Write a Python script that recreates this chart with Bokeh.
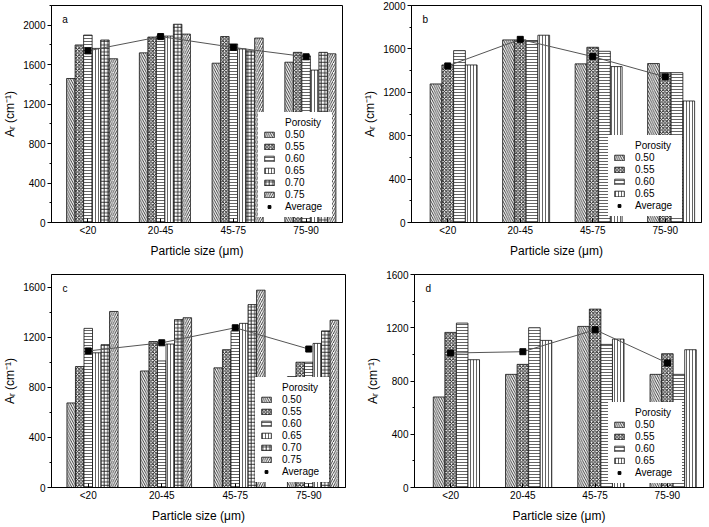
import numpy as np
from bokeh.plotting import figure
from bokeh.models import ColumnDataSource, Range1d, FixedTicker, Legend, LegendItem, Label
from bokeh.transform import dodge
from bokeh.layouts import row, column
from bokeh.embed import file_html
from bokeh.resources import INLINE

# ---------------- data ----------------
categories = ["<20", "20-45", "45-75", "75-90"]
porosity_six = ["0.50", "0.55", "0.60", "0.65", "0.70", "0.75"]
porosity_four = ["0.50", "0.55", "0.60", "0.65"]

# panel a (rows: porosity 0.50 ... 0.75, columns: particle size classes)
a_values = [
    [1460, 1720, 1615, 1625],
    [1800, 1880, 1885, 1725],
    [1900, 1890, 1810, 1690],
    [1765, 1890, 1760, 1545],
    [1850, 2010, 1740, 1725],
    [1660, 1910, 1870, 1710],
]
a_average = [1740, 1885, 1775, 1680]

# panel b (rows: porosity 0.50 ... 0.65)
b_values = [
    [1277, 1683, 1462, 1465],
    [1452, 1683, 1615, 1381],
    [1584, 1677, 1578, 1381],
    [1452, 1726, 1437, 1120],
]
b_average = [1443, 1688, 1529, 1342]

# panel c (rows: porosity 0.50 ... 0.75)
c_values = [
    [675, 930, 955, 885],
    [965, 1165, 1100, 1000],
    [1270, 1010, 1250, 1000],
    [1075, 1145, 1310, 1150],
    [1140, 1340, 1460, 1250],
    [1405, 1355, 1575, 1335],
]
c_average = [1090, 1155, 1275, 1105]

# panel d (rows: porosity 0.50 ... 0.65)
d_values = [
    [680, 850, 1210, 850],
    [1165, 925, 1340, 1005],
    [1235, 1200, 1075, 850],
    [960, 1105, 1115, 1035],
]
d_average = [1010, 1020, 1185, 935]

# ---------------- styling ----------------
FONT = "Liberation Sans"
HATCH = {"0.50": "\\", "0.55": "x", "0.60": "-", "0.65": "|", "0.70": "+", "0.75": "/"}
HSCALE = {"0.50": 4.5, "0.55": 3.5, "0.60": 3, "0.65": 3, "0.70": 3.5, "0.75": 4.5}
HWEIGHT = {"0.50": 0.9, "0.55": 1.0, "0.60": 0.7, "0.65": 0.7, "0.70": 0.9, "0.75": 0.9}


def panel(letter, values, average, labels, ymax, width, height, borders, bar_w, legend_xy):
    l, r, t, b = borders
    fw = width - l - r
    fh = height - t - b
    p = figure(width=width, height=height, x_range=Range1d(0.5, 4.5), y_range=Range1d(0, ymax),
               output_backend="svg", toolbar_location=None,
               min_border_left=l, min_border_right=r, min_border_top=t, min_border_bottom=b)
    p.xgrid.visible = False
    p.ygrid.visible = False
    p.outline_line_color = "black"
    p.outline_line_width = 1
    p.background_fill_color = "white"

    data = {"x": [1, 2, 3, 4], "avg": average}
    for j, vals in enumerate(values):
        data[f"p{j}"] = vals
    src = ColumnDataSource(data)

    n = len(values)
    bar_renderers = []
    for j, lab in enumerate(labels):
        off = (j - (n / 2 - 1)) * bar_w
        rr = p.vbar(x=dodge("x", off, range=p.x_range), top=f"p{j}", bottom=0, width=bar_w, source=src,
                    fill_color="white", line_color="#111111", line_width=0.8,
                    hatch_pattern=HATCH[lab], hatch_scale=HSCALE[lab], hatch_color="#222222",
                    hatch_weight=HWEIGHT[lab])
        bar_renderers.append(rr)

    p.line("x", "avg", source=src, line_color="#555555", line_width=1)
    sq = p.scatter("x", "avg", source=src, marker="square", size=6,
                   fill_color="black", line_color="black")
    blank = p.scatter(x=[], y=[], size=1, fill_alpha=0, line_alpha=0)

    items = [LegendItem(label="Porosity", renderers=[blank])]
    items += [LegendItem(label=lab, renderers=[rr]) for lab, rr in zip(labels, bar_renderers)]
    items += [LegendItem(label="Average", renderers=[sq])]
    legend = Legend(items=items, location=legend_xy, padding=5, spacing=1, margin=0,
                    label_height=11, glyph_height=7, glyph_width=12, label_standoff=10,
                    label_width=42,
                    label_text_font=FONT, label_text_font_size="10px", label_text_color="black",
                    border_line_alpha=0, background_fill_color="white", background_fill_alpha=1)
    p.add_layout(legend)

    # axes
    major = list(range(0, int(ymax) + 1, 400))
    minor = list(range(0, int(ymax) + 1, 200))
    p.yaxis.ticker = FixedTicker(ticks=major, minor_ticks=minor)
    p.xaxis.ticker = FixedTicker(ticks=[1, 2, 3, 4], minor_ticks=[])
    p.xaxis.major_label_overrides = {i + 1: c for i, c in enumerate(categories)}
    for ax in (p.xaxis[0], p.yaxis[0]):
        ax.axis_line_color = "black"
        ax.major_tick_line_color = "black"
        ax.minor_tick_line_color = "black"
        ax.major_label_text_font = FONT
        ax.major_label_text_font_size = "10px"
        ax.major_label_text_color = "black"
        ax.axis_label_text_font = FONT
        ax.axis_label_text_font_size = "12px"
        ax.axis_label_text_font_style = "normal"
        ax.axis_label_text_color = "black"
    p.xaxis.major_tick_in = 4
    p.xaxis.major_tick_out = 0
    p.xaxis.major_label_standoff = 2
    p.xaxis.axis_label_standoff = 5
    p.yaxis.major_tick_in = 0
    p.yaxis.major_tick_out = 4
    p.yaxis.minor_tick_in = 0
    p.yaxis.minor_tick_out = 2
    p.yaxis.major_label_standoff = 2
    p.yaxis.axis_label_standoff = 3
    p.xaxis.axis_label = "Particle size (\u03bcm)"
    p.yaxis.axis_label = "A\u1d63 (cm\u207b\u00b9)"

    # panel letter
    lx = 0.5 + 11 / (fw / 4.0)
    ly = ymax - 14 * ymax / fh
    p.add_layout(Label(x=lx, y=ly, text=letter, text_font=FONT, text_font_size="10px",
                       text_baseline="middle", text_align="left", text_color="black"))
    return p


pa = panel("a", a_values, a_average, porosity_six, 2200, 360, 262, (47, 18, 5, 40), 0.117, (207, 5))
pb = panel("b", b_values, b_average, porosity_four, 2000, 349, 262, (48, 8, 5, 40), 0.162, (197, 6))
pc = panel("c", c_values, c_average, porosity_six, 1700, 360, 265, (51, 15, 12, 37), 0.116, (204, 5))
pd = panel("d", d_values, d_average, porosity_four, 1600, 349, 265, (54, 6, 10, 40), 0.16, (194, 4))

layout = column(row(pa, pb, spacing=0), row(pc, pd, spacing=0), spacing=0)

open("out.html", "w").write(file_html(layout, INLINE))
